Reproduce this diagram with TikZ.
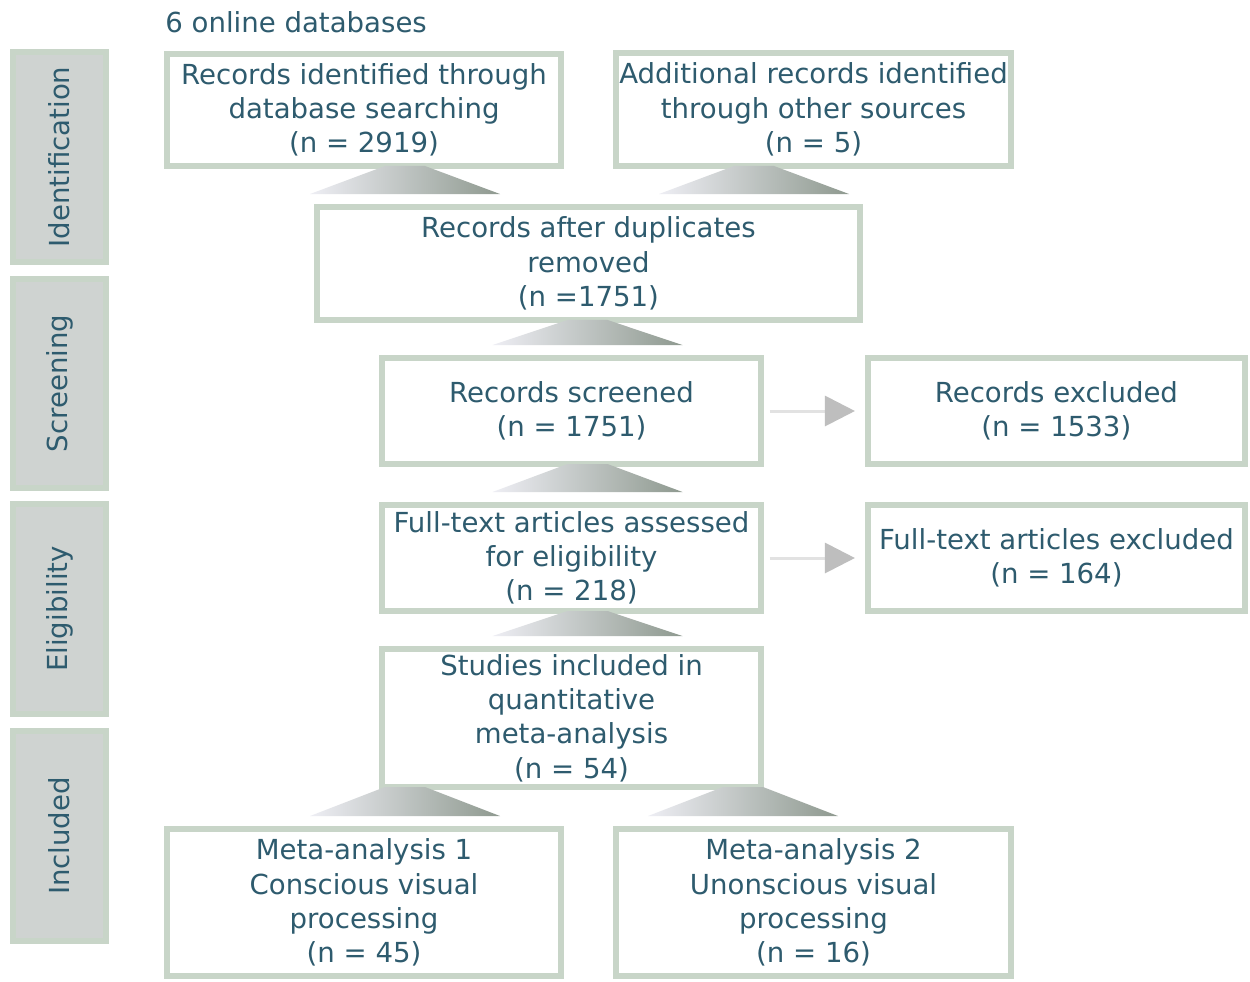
\documentclass[tikz,border=0pt]{standalone}
\usepackage{fontspec}
\setmainfont{DejaVu Sans}
\usepackage{tikz}
\usepackage{xcolor}
\usetikzlibrary{calc,arrows.meta}

\definecolor{inktext}{HTML}{2E5B6E}
\definecolor{boxline}{HTML}{C8D5C8}
\definecolor{phasefill}{HTML}{CFD3D1}
\definecolor{funnelL}{HTML}{EEEEF4}
\definecolor{funnelR}{HTML}{8E998F}
\definecolor{arrline}{HTML}{E2E2E2}
\definecolor{arrhead}{HTML}{BEBEBE}

% funnel: x centre, upper node, lower node
\newcommand{\funnel}[3]{%
  \shade[funnel] (#1,0 |- #2.south) ++(-20,0) -- ++(40,0)
    -- ($(#1,0 |- #3.north)+(95,-13)$) -- ++(-190,0) -- cycle;}

\begin{document}
\begin{tikzpicture}[x=0.02cm, y=-0.02cm, node distance={9.7cm},
  txt/.style = {text=inktext, font=\fontsize{15.7}{19.5}\selectfont},
  main/.style = {txt, draw=boxline, line width=0.12cm, fill=white, outer sep=0pt, inner sep=0pt, align=center},
  phase/.style = {txt, draw=boxline, fill=phasefill, line width=0.12cm, rotate=90, minimum width=4.2cm, minimum height=1.86cm},
  funnel/.style = {left color=funnelL, right color=funnelR},
  pass/.style = {draw=arrline, line width=0.06cm, shorten <=0.18cm, shorten >=0.26cm, -{Triangle[length=0.6cm, width=0.6cm, color=arrhead, fill=arrhead]}}]
\useasboundingbox (0,0) rectangle (1250,981);
\fill[white] (0,0) rectangle (1250,981);

% phases
\node[phase] (id) at (59.5,157) {Identification};
\node[phase] (sc) at (59.5,383.5) {Screening};
\node[phase] (el) at (59.5,609) {Eligibility};
\node[phase] (in) at (59.5,836) {Included};

\node[txt, anchor=west, inner sep=0pt] (src) at (165,22) {6 online databases};

% boxes
\node[main, minimum width=7.88cm, minimum height=2.24cm] (db) at (364,110) {Records identified through\\database searching\\(n = 2919)};
\node[main, minimum width=7.9cm, minimum height=2.26cm] (other) at (813.5,109.5) {Additional records identified\\through other sources\\(n = 5)};
\node[main, minimum width=10.86cm, minimum height=2.26cm] (dup) at (588.5,263.5) {Records after duplicates\\removed\\(n =1751)};
\node[main, minimum width=7.58cm, minimum height=2.12cm] (scr) at (571.5,411) {Records screened\\(n = 1751)};
\node[main, minimum width=7.54cm, minimum height=2.12cm] (exc) [right of=scr] {Records excluded\\(n = 1533)};
\node[main, minimum width=7.58cm, minimum height=2.12cm] (full) at (571.5,558) {Full-text articles assessed\\for eligibility\\(n = 218)};
\node[main, minimum width=7.54cm, minimum height=2.12cm] (fexc) [right of=full] {Full-text articles excluded\\(n = 164)};
\node[main, minimum width=7.58cm, minimum height=2.76cm] (quant) at (571.5,718) {Studies included in\\quantitative\\meta-analysis\\(n = 54)};
\node[main, minimum width=7.88cm, minimum height=2.94cm] (ma1) at (364,902.5) {Meta-analysis 1\\Conscious visual\\processing\\(n = 45)};
\node[main, minimum width=7.9cm, minimum height=2.94cm] (ma2) at (813.5,902.5) {Meta-analysis 2\\Unonscious visual\\processing\\(n = 16)};

% funnels
\funnel{405}{db}{dup}
\funnel{754}{other}{dup}
\funnel{587.5}{dup}{scr}
\funnel{587.5}{scr}{full}
\funnel{587.5}{full}{quant}
\funnel{405}{quant}{ma1}
\funnel{743}{quant}{ma2}

% exclusions
\draw[pass] (scr) -- (exc);
\draw[pass] (full) -- (fexc);

\end{tikzpicture}
\end{document}
